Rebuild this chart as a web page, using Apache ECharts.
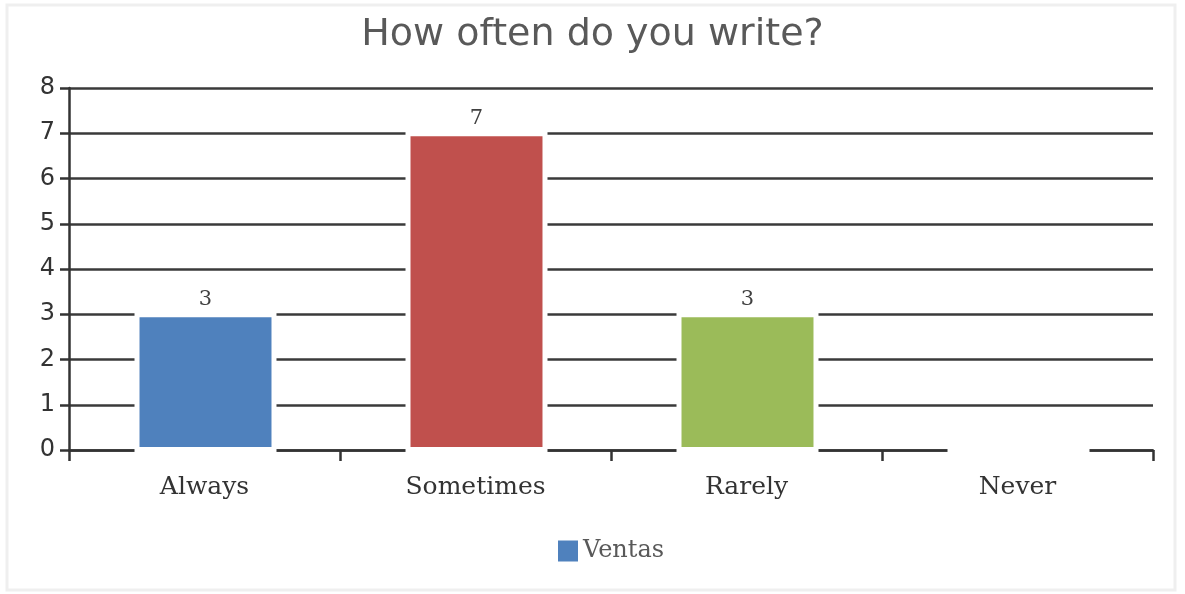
<!DOCTYPE html>
<html>
<head>
<meta charset="utf-8">
<script src="https://cdn.jsdelivr.net/npm/echarts@6/dist/echarts.min.js"></script>
<style>
html,body{margin:0;padding:0;background:#fff;}
#chart{width:1185px;height:594px;}
</style>
</head>
<body>
<div id="chart"></div>
<script>
const titleText = 'How often do you write?';
const categories = ['Always', 'Sometimes', 'Rarely', 'Never'];
const seriesName = 'Ventas';
const values = [3, 7, 3, 0];
const barColors = ['#4F81BD', '#C0504D', '#9BBB59', '#8064A2'];
const yTicks = { min: 0, max: 8, interval: 1 };

const chart = echarts.init(document.getElementById('chart'));

function renderBar(params, api) {
  const idx = api.value(0);
  const v = api.value(1);
  const top = api.coord([idx, v]);
  const base = api.coord([idx, 0]);
  const band = api.size([1, 0])[0];
  const w = band * 0.487;
  const pad = 5;
  const x = top[0] - w / 2 + 1;
  const children = [{
    type: 'rect',
    shape: { x: x - pad, y: top[1] - 3, width: w + 2 * pad, height: base[1] - top[1] + 6 },
    style: { fill: '#fff' }
  }];
  const h = base[1] - top[1] - 6;
  if (h > 0) {
    children.push({
      type: 'rect',
      shape: { x: x, y: top[1] + 3, width: w, height: h },
      style: { fill: barColors[params.dataIndex] }
    });
    children.push({
      type: 'text',
      x: top[0] + 1, y: top[1] - 4,
      style: {
        text: String(v), align: 'center', verticalAlign: 'bottom',
        fontFamily: 'DejaVu Serif', fontSize: 21, fill: '#404040'
      }
    });
  }
  return { type: 'group', children };
}

chart.setOption({
  animation: false,
  backgroundColor: '#fff',
  graphic: [{
    type: 'rect', z: -10, silent: true,
    shape: { x: 7, y: 5, width: 1168, height: 585 },
    style: { fill: 'none', stroke: '#efefef', lineWidth: 3 }
  }],
  title: {
    text: titleText,
    left: 'center',
    top: 11,
    textStyle: { fontFamily: 'DejaVu Sans', fontSize: 38, fontWeight: 'normal', color: '#595959' }
  },
  legend: {
    data: [seriesName],
    bottom: 26,
    left: 553,
    itemWidth: 20,
    itemHeight: 21,
    icon: 'rect',
    itemGap: 6,
    itemStyle: { color: barColors[0], borderWidth: 0 },
    textStyle: { fontFamily: 'DejaVu Serif', fontSize: 24, color: '#595959' }
  },
  grid: { left: 69, right: 32, top: 88, bottom: 144, containLabel: false },
  xAxis: {
    type: 'category',
    data: categories,
    boundaryGap: true,
    axisLine: { show: true, lineStyle: { color: '#333', width: 2.5 } },
    axisTick: { show: true, length: 11, inside: false, alignWithLabel: false, lineStyle: { color: '#333', width: 2.5 } },
    axisLabel: { margin: 25, fontFamily: 'DejaVu Serif', fontSize: 25, color: '#333' },
    splitLine: { show: false }
  },
  yAxis: {
    type: 'value',
    min: yTicks.min, max: yTicks.max, interval: yTicks.interval,
    axisLine: { show: true, lineStyle: { color: '#333', width: 2.5 } },
    axisTick: { show: true, length: 9, lineStyle: { color: '#333', width: 2.5 } },
    axisLabel: { margin: 14, fontFamily: 'DejaVu Sans', fontSize: 24, color: '#333' },
    splitLine: { show: true, lineStyle: { color: '#3a3a3a', width: 2.5 } }
  },
  series: [{
    name: seriesName,
    type: 'custom',
    renderItem: renderBar,
    itemStyle: { color: barColors[0] },
    encode: { x: 0, y: 1 },
    data: values.map((v, i) => [i, v])
  }]
});
</script>
</body>
</html>
